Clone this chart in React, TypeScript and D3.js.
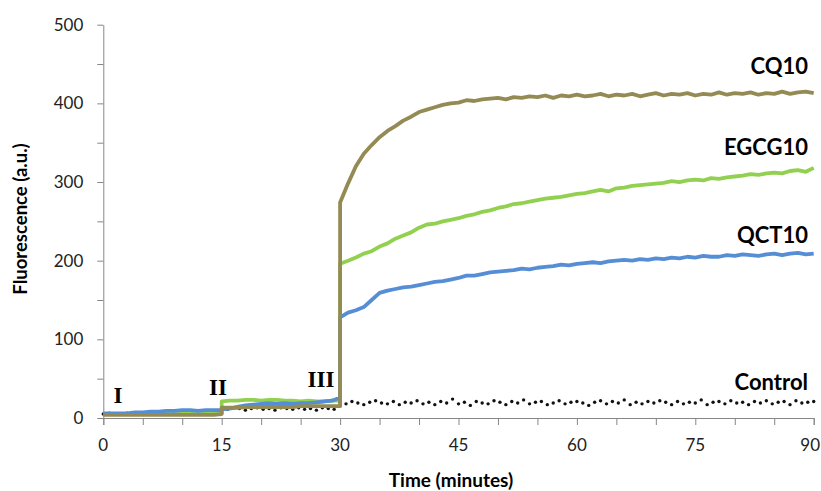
import React, { useEffect, useRef } from 'react';
import * as d3 from 'd3';

// sampling grid (minutes); 15 and 30 repeated for the injection steps
const times = [...d3.range(0, 16), ...d3.range(15, 31), ...d3.range(30, 91)];

const cq10 = [
  4, 4, 4, 4, 4, 4, 4, 4, 4, 4, 4, 4, 4, 4, 4, 5,
  13, 13, 13, 14, 14, 14, 14, 14, 14, 14, 15, 15, 15, 15, 15, 15,
  274, 298, 320, 336, 347, 357, 365, 371, 378, 383,
  389, 392, 395, 398, 400, 401, 404, 403, 405, 406,
  407, 405, 408, 407, 409, 408, 410, 407, 410, 409,
  411, 409, 410, 412, 409, 411, 410, 412, 409, 411,
  413, 410, 412, 411, 413, 410, 412, 411, 414, 411,
  413, 412, 414, 411, 413, 412, 415, 412, 414, 415,
  413,
];

const egcg10 = [
  5, 5, 5, 5, 5, 5, 5, 5, 6, 6, 6, 6, 6, 6, 6, 6,
  21, 22, 22, 23, 23, 22, 23, 23, 22, 22, 21, 22, 21, 21, 22, 22,
  196, 200, 204, 209, 212, 218, 222, 228, 232, 236,
  242, 246, 247, 250, 252, 254, 257, 259, 262, 264,
  267, 269, 272, 273, 275, 277, 279, 280, 281, 283,
  285, 286, 288, 290, 288, 292, 293, 295, 296, 297,
  298, 299, 301, 300, 302, 303, 302, 305, 304, 306,
  307, 308, 310, 309, 311, 312, 311, 314, 315, 313,
  318,
];

const qct10 = [
  6, 6, 6, 6, 7, 7, 8, 8, 9, 9, 10, 10, 9, 10, 10, 10,
  11, 12, 14, 16, 17, 18, 19, 18, 19, 18, 19, 19, 20, 21, 22, 26,
  128, 134, 137, 141, 150, 159, 162, 164, 166, 167,
  169, 171, 173, 174, 176, 178, 181, 181, 183, 185,
  186, 187, 188, 190, 189, 191, 192, 193, 195, 194,
  196, 197, 198, 197, 199, 200, 201, 200, 202, 201,
  203, 202, 204, 203, 205, 204, 206, 205, 205, 207,
  206, 208, 207, 206, 208, 209, 207, 209, 210, 208,
  209,
];

const controlTimes = d3.range(0, 90.01, 0.75);
const control = [
  5, 6, 5, 5, 6, 5, 6, 5, 5, 6, 6, 5, 6, 5, 6, 6, 5, 6, 6, 5,
  12, 11, 13, 12, 10, 12, 13, 11, 12, 10, 13, 12, 11, 13, 11, 12, 10, 13, 12, 11,
  20, 18, 21, 19, 17, 20, 22, 19, 18, 21,
  17, 20, 19, 22, 18, 20, 17, 21, 19, 24,
  18, 20, 16, 21, 19, 18, 22, 20, 17, 21,
  19, 23, 18, 20, 21, 17, 19, 22, 18, 20,
  21, 19, 16, 20, 22, 18, 21, 19, 23, 17,
  20, 18, 21, 19, 22, 20, 17, 21, 18, 20,
  19, 23, 17, 20, 21, 18, 22, 19, 20, 17,
  21, 19, 22, 18, 20, 21, 17, 22, 19, 20,
  21,
];

const xTicks = [0, 15, 30, 45, 60, 75, 90];
const yTicks = [0, 100, 200, 300, 400, 500];

const FONT = 'Lato, "Open Sans", sans-serif';

const App = () => {
  const svgRef = useRef<SVGSVGElement>(null);

  useEffect(() => {
    const svg = d3.select(svgRef.current);
    svg.selectAll('*').remove();

    const x = d3.scaleLinear().domain([0, 90]).range([103.3, 813.7]);
    const y = d3.scaleLinear().domain([0, 500]).range([418, 24.7]);
    const axisColor = '#868686';

    // control dots (under the lines)
    svg.append('g')
      .selectAll('circle')
      .data(control)
      .enter().append('circle')
      .attr('cx', (d, i) => x(controlTimes[i]))
      .attr('cy', d => y(d))
      .attr('r', 1.7)
      .attr('fill', '#111');

    const line = d3.line<number>()
      .x((d, i) => x(times[i]))
      .y(d => y(d));

    const series = [
      { values: egcg10, color: '#92D050' },
      { values: qct10, color: '#558ED5' },
      { values: cq10, color: '#948A54' },
    ];
    series.forEach(s => {
      svg.append('path')
        .attr('d', line(s.values))
        .attr('fill', 'none')
        .attr('stroke', s.color)
        .attr('stroke-width', 3.8)
        .attr('stroke-linejoin', 'round');
    });

    // axes
    const gx = svg.append('g').attr('transform', 'translate(0,418)');
    gx.call(
      d3.axisBottom(x)
        .tickValues(d3.range(0, 91, 5))
        .tickSize(7)
        .tickFormat(() => '')
    );
    gx.selectAll('line, path').attr('stroke', axisColor);
    // the last label sits against the right edge, so it is end-anchored
    gx.selectAll('text.lbl')
      .data(xTicks)
      .enter().append('text')
      .attr('class', 'lbl')
      .attr('x', d => (d === 90 ? 820 : x(d)))
      .attr('y', 33)
      .attr('text-anchor', d => (d === 90 ? 'end' : 'middle'))
      .attr('fill', '#222')
      .style('font-family', FONT)
      .style('font-size', '17px')
      .text(d => d);

    const gy = svg.append('g').attr('transform', 'translate(103.3,0)');
    gy.call(
      d3.axisLeft(y)
        .tickValues(d3.range(0, 501, 50))
        .tickSize(6)
        .tickSizeOuter(0)
        .tickFormat(() => '')
    );
    gy.selectAll('line, path').attr('stroke', axisColor);
    gy.selectAll('text.lbl')
      .data(yTicks)
      .enter().append('text')
      .attr('class', 'lbl')
      .attr('x', -20)
      .attr('y', d => y(d) + 6)
      .attr('text-anchor', 'end')
      .attr('fill', '#222')
      .style('font-family', FONT)
      .style('font-size', '17px')
      .text(d => d);

    // axis titles
    svg.append('text')
      .attr('x', 451)
      .attr('y', 487)
      .attr('text-anchor', 'middle')
      .style('font-family', FONT)
      .style('font-weight', 'bold')
      .style('font-size', '19px')
      .text('Time (minutes)');

    svg.append('text')
      .attr('transform', 'translate(27,219) rotate(-90)')
      .attr('text-anchor', 'middle')
      .style('font-family', FONT)
      .style('font-weight', 'bold')
      .style('font-size', '18.5px')
      .text('Fluorescence (a.u.)');

    // series labels
    const labels = [
      { text: 'CQ10', y: 74 },
      { text: 'EGCG10', y: 155 },
      { text: 'QCT10', y: 243 },
      { text: 'Control', y: 390 },
    ];
    svg.selectAll('text.series')
      .data(labels)
      .enter().append('text')
      .attr('class', 'series')
      .attr('x', 808)
      .attr('y', d => d.y)
      .attr('text-anchor', 'end')
      .style('font-family', FONT)
      .style('font-weight', 'bold')
      .style('font-size', '22px')
      .text(d => d.text);

    // injection markers
    const steps = [
      { text: 'I', x: 118, y: 403 },
      { text: 'II', x: 218, y: 395 },
      { text: 'III', x: 321, y: 387 },
    ];
    svg.selectAll('text.step')
      .data(steps)
      .enter().append('text')
      .attr('class', 'step')
      .attr('x', d => d.x)
      .attr('y', d => d.y)
      .attr('text-anchor', 'middle')
      .style('font-family', '"Liberation Serif", "Times New Roman", serif')
      .style('font-weight', 'bold')
      .style('font-size', '23px')
      .text(d => d.text);
  }, []);

  return (
    <svg
      ref={svgRef}
      width={821}
      height={491}
      style={{ position: 'absolute', left: 0, top: 0, background: '#fff' }}
    />
  );
};

export default App;
